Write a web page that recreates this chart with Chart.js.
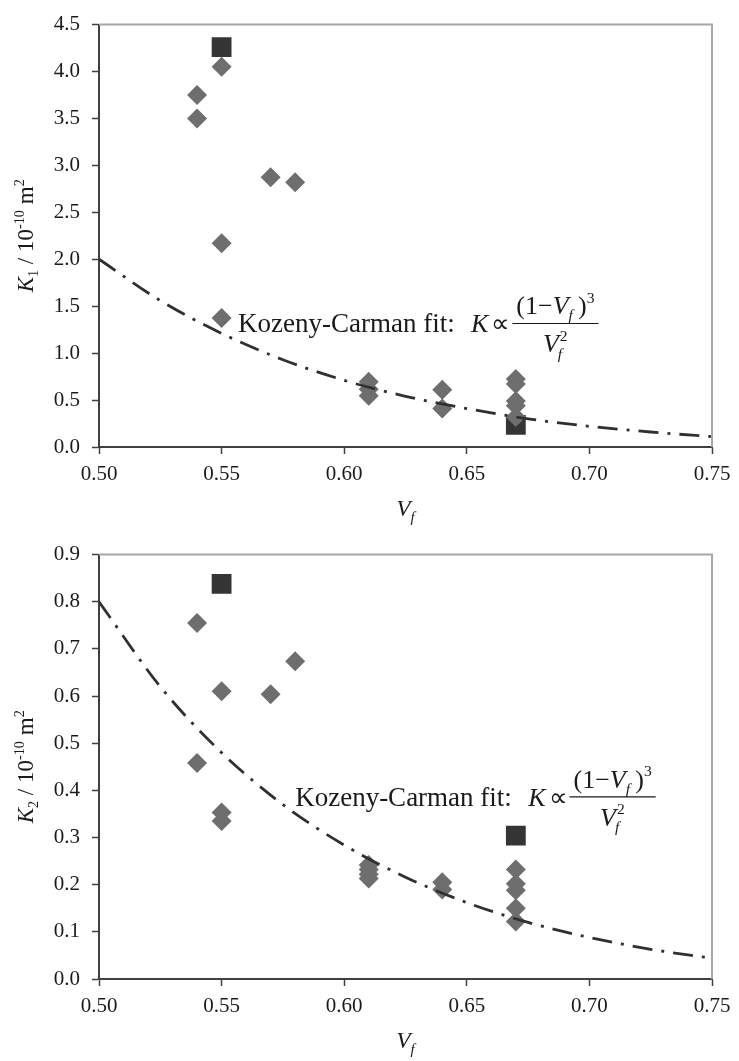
<!DOCTYPE html>
<html><head><meta charset="utf-8">
<script src="https://cdn.jsdelivr.net/npm/chart.js"></script>
<style>
html,body{margin:0;padding:0;background:#fff;overflow:hidden;}
canvas{position:absolute;left:0;}
#c1{top:0;}
#c2{top:530px;}
</style></head><body>
<canvas id="c1" width="739" height="530"></canvas>
<canvas id="c2" width="739" height="531"></canvas>
<script>
// ---------- tick values / labels ----------
const vfTicks = [0.50, 0.55, 0.60, 0.65, 0.70, 0.75];
const vfTickLabels = ['0.50', '0.55', '0.60', '0.65', '0.70', '0.75'];
const k1Ticks = [0.0, 0.5, 1.0, 1.5, 2.0, 2.5, 3.0, 3.5, 4.0, 4.5];
const k1TickLabels = ['0.0', '0.5', '1.0', '1.5', '2.0', '2.5', '3.0', '3.5', '4.0', '4.5'];
const k2Ticks = [0.0, 0.1, 0.2, 0.3, 0.4, 0.5, 0.6, 0.7, 0.8, 0.9];
const k2TickLabels = ['0.0', '0.1', '0.2', '0.3', '0.4', '0.5', '0.6', '0.7', '0.8', '0.9'];

// ---------- K1 data ----------
const k1DiamondVf = [0.54, 0.54, 0.55, 0.55, 0.55, 0.57, 0.58, 0.61, 0.61, 0.61, 0.64, 0.64, 0.67, 0.67, 0.67, 0.67, 0.67];
const k1DiamondK  = [3.75, 3.50, 4.05, 2.17, 1.375, 2.875, 2.82, 0.695, 0.615, 0.545, 0.61, 0.41, 0.725, 0.67, 0.49, 0.44, 0.32];
const k1SquareVf = [0.55, 0.67];
const k1SquareK  = [4.26, 0.235];
const fitVf = [0.500, 0.525, 0.550, 0.575, 0.600, 0.625, 0.650, 0.675, 0.700, 0.725, 0.750];
const k1FitK = [2.00, 1.56, 1.21, 0.93, 0.71, 0.54, 0.41, 0.30, 0.22, 0.16, 0.11];

// ---------- K2 data ----------
const k2DiamondVf = [0.54, 0.54, 0.55, 0.55, 0.55, 0.57, 0.58, 0.61, 0.61, 0.61, 0.61, 0.64, 0.64, 0.67, 0.67, 0.67, 0.67, 0.67];
const k2DiamondK  = [0.755, 0.458, 0.61, 0.353, 0.335, 0.604, 0.674, 0.242, 0.232, 0.222, 0.213, 0.205, 0.19, 0.232, 0.202, 0.188, 0.15, 0.122];
const k2SquareVf = [0.55, 0.67];
const k2SquareK  = [0.838, 0.304];
const k2FitK = [0.80, 0.62, 0.48, 0.37, 0.284, 0.216, 0.162, 0.12, 0.088, 0.063, 0.044];

const SERIF = '"Liberation Serif", "Times New Roman", serif';
const TXT = '#1a1a1a';

function pts(xs, ys) { return xs.map((x, i) => ({x: x, y: ys[i]})); }

function drawRich(ctx, segs, x, y, size) {
  for (const s of segs) {
    const fs = size * (s.scale || 1);
    ctx.font = (s.italic ? 'italic ' : '') + fs + 'px ' + SERIF;
    x += (s.pre || 0) * size;
    ctx.fillText(s.t, x, y + (s.dy || 0) * size);
    x += ctx.measureText(s.t).width + (s.after || 0) * size;
  }
  return x;
}
function richWidth(ctx, segs, size) {
  let w = 0;
  for (const s of segs) {
    const fs = size * (s.scale || 1);
    ctx.font = (s.italic ? 'italic ' : '') + fs + 'px ' + SERIF;
    w += (s.pre || 0) * size + ctx.measureText(s.t).width + (s.after || 0) * size;
  }
  return w;
}

const decor = {
  id: 'decor',
  afterDraw(chart, args, o) {
    const ctx = chart.ctx, a = chart.chartArea;
    ctx.save();
    // top & right frame
    ctx.strokeStyle = '#a8a8a8'; ctx.lineWidth = 2;
    ctx.beginPath();
    ctx.moveTo(a.left, a.top); ctx.lineTo(a.right, a.top); ctx.lineTo(a.right, a.bottom);
    ctx.stroke();
    ctx.fillStyle = TXT;
    ctx.textBaseline = 'alphabetic';
    // y title (rotated)
    const ys = 23;
    const ySegs = [
      {t: 'K', italic: true},
      {t: o.sub, scale: 0.62, dy: 0.22},
      {t: ' / 10'},
      {t: '-10', scale: 0.62, dy: -0.4},
      {t: ' m'},
      {t: '2', scale: 0.62, dy: -0.4}
    ];
    const yw = richWidth(ctx, ySegs, ys);
    ctx.save();
    ctx.translate(33, (a.top + a.bottom) / 2);
    ctx.rotate(-Math.PI / 2);
    drawRich(ctx, ySegs, -yw / 2, 0, ys);
    ctx.restore();
    // x title
    const xs = 23;
    const xSegs = [{t: 'V', italic: true}, {t: 'f', italic: true, scale: 0.65, dy: 0.25}];
    const xw = richWidth(ctx, xSegs, xs);
    drawRich(ctx, xSegs, (a.left + a.right) / 2 - xw / 2, a.bottom + 69, xs);
    // annotation
    const x0 = chart.scales.x.getPixelForValue(o.ax);
    const b = chart.scales.y.getPixelForValue(o.ay);
    ctx.font = '27px ' + SERIF;
    ctx.fillText('Kozeny-Carman fit:', x0, b);
    const ms = 26;
    let x = x0 + 233;
    x = drawRich(ctx, [{t: 'K', italic: true}], x, b, ms);
    x = drawRich(ctx, [{t: '\u221D'}], x + 3, b, ms);
    const bx = x + 2;
    const barY = b - 9;
    const num = [
      {t: '(1\u2212'},
      {t: 'V', italic: true},
      {t: 'f', italic: true, scale: 0.6, dy: 0.22, after: 0.2},
      {t: ')'},
      {t: '3', scale: 0.6, dy: -0.45}
    ];
    const nw = richWidth(ctx, num, ms);
    const bw = nw + 8;
    drawRich(ctx, num, bx + 4, barY - 9, ms);
    ctx.strokeStyle = TXT; ctx.lineWidth = 1.2;
    ctx.beginPath(); ctx.moveTo(bx, barY); ctx.lineTo(bx + bw, barY); ctx.stroke();
    // denominator V_f^2 with stacked f / 2
    ctx.font = 'italic ' + ms + 'px ' + SERIF;
    const vw = ctx.measureText('V').width;
    const dw = vw + ms * 0.35;
    const dx = bx + bw / 2 - dw / 2;
    const db = barY + 29;
    ctx.fillText('V', dx, db);
    ctx.font = 'italic ' + (ms * 0.6) + 'px ' + SERIF;
    ctx.fillText('f', dx + vw - 1, db + ms * 0.25);
    ctx.font = (ms * 0.6) + 'px ' + SERIF;
    ctx.fillText('2', dx + vw + 1, db - ms * 0.45);
    ctx.restore();
  }
};

function makeChart(id, h, diamonds, squares, fit, yTicks, yTickLabels, yMax, sub, ax, ay) {
  const ctx = document.getElementById(id).getContext('2d');
  return new Chart(ctx, {
    type: 'scatter',
    data: {
      datasets: [
        {
          data: fit, showLine: true, pointRadius: 0, pointHoverRadius: 0,
          borderColor: '#303030', borderWidth: 2.8, borderDash: [20, 9, 3, 9],
          cubicInterpolationMode: 'monotone', fill: false
        },
        {
          data: diamonds, pointStyle: 'rectRot', pointRadius: 10, pointHoverRadius: 10,
          backgroundColor: '#6e6e6e', borderColor: '#6e6e6e', borderWidth: 0
        },
        {
          data: squares, pointStyle: 'rect', pointRadius: 14, pointHoverRadius: 14,
          backgroundColor: '#353535', borderColor: '#353535', borderWidth: 0
        }
      ]
    },
    options: {
      responsive: false, animation: false,
      layout: {padding: {left: 0, right: 27, top: 15, bottom: 0}},
      plugins: {legend: {display: false}, tooltip: {enabled: false},
        decor: {sub: sub, ax: ax, ay: ay}},
      scales: {
        x: {
          type: 'linear', min: 0.5, max: 0.75,
          afterBuildTicks: s => { s.ticks = vfTicks.map(v => ({value: v})); },
          afterFit: s => { s.height = h - 15 - (h === 530 ? 432 : 434); },
          ticks: {autoSkip: false, maxRotation: 0, padding: 8, color: TXT,
            font: {family: SERIF, size: 21},
            callback: (v) => vfTickLabels[vfTicks.findIndex(t => Math.abs(t - v) < 1e-9)]},
          grid: {display: true, drawOnChartArea: false, drawTicks: true, tickLength: 7, tickWidth: 1.5, tickColor: '#404040'},
          border: {display: true, color: '#404040', width: 2}
        },
        y: {
          type: 'linear', min: 0, max: yMax,
          afterBuildTicks: s => { s.ticks = yTicks.map(v => ({value: v})); },
          afterFit: s => { s.width = 99; },
          ticks: {autoSkip: false, padding: 12, color: TXT,
            font: {family: SERIF, size: 21},
            callback: (v) => yTickLabels[yTicks.findIndex(t => Math.abs(t - v) < 1e-9)]},
          grid: {display: true, drawOnChartArea: false, drawTicks: true, tickLength: 7, tickWidth: 1.5, tickColor: '#404040'},
          border: {display: true, color: '#404040', width: 2}
        }
      }
    },
    plugins: [decor]
  });
}

makeChart('c1', 530, pts(k1DiamondVf, k1DiamondK), pts(k1SquareVf, k1SquareK), pts(fitVf, k1FitK),
  k1Ticks, k1TickLabels, 4.5, '1', 0.5567, 1.22);
makeChart('c2', 531, pts(k2DiamondVf, k2DiamondK), pts(k2SquareVf, k2SquareK), pts(fitVf, k2FitK),
  k2Ticks, k2TickLabels, 0.9, '2', 0.580, 0.367);
</script>
</body></html>
